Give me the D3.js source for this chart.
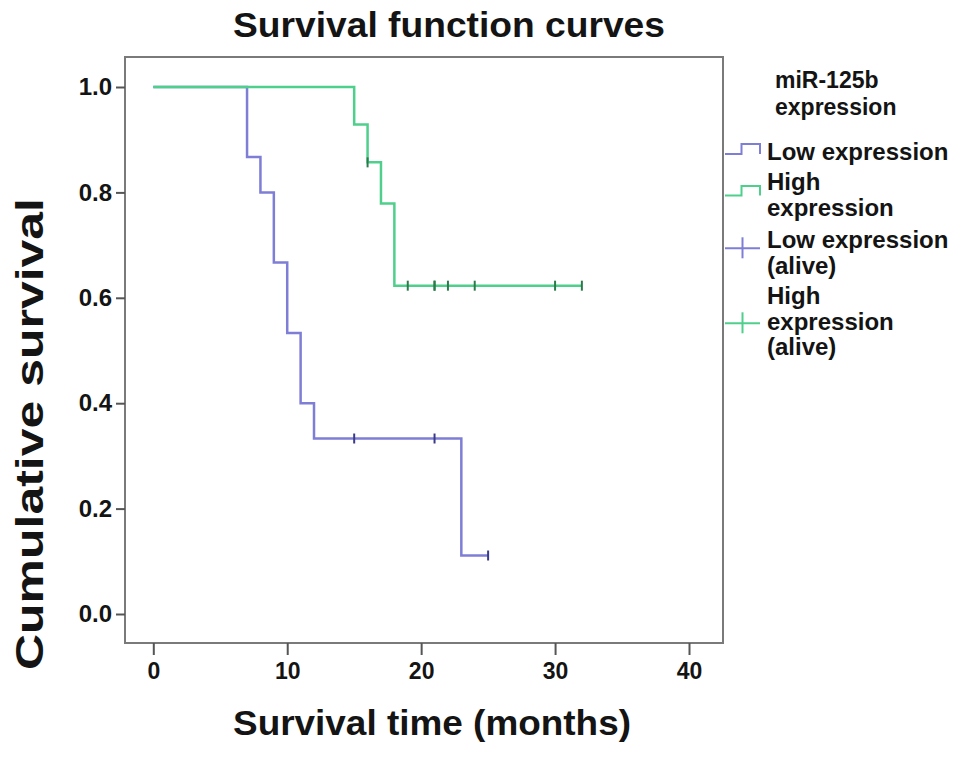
<!DOCTYPE html>
<html>
<head>
<meta charset="utf-8">
<script src="https://cdn.jsdelivr.net/npm/d3@7"></script>
<style>
  body { margin: 0; background: #fff; }
  text { font-family: "Liberation Sans", Arial, sans-serif; font-weight: bold; fill: #141414; }
</style>
</head>
<body>
<script>
//step curves (months, cumulative survival)
var lowTime = [0, 7, 8, 9, 10, 11, 12, 23, 25];
var lowSurv = [1.0, 0.867, 0.8, 0.667, 0.533, 0.4, 0.333, 0.111, 0.111];
var highTime = [0, 15, 16, 17, 18, 32];
var highSurv = [1.0, 0.929, 0.857, 0.779, 0.623, 0.623];

//censored cases (alive)
var lowCensorTime = [15, 21, 25];
var lowCensorSurv = [0.333, 0.333, 0.111];
var highCensorTime = [16, 19, 21, 21, 22, 24, 30, 32];
var highCensorSurv = [0.857, 0.623, 0.623, 0.623, 0.623, 0.623, 0.623, 0.623];

var xTicks = [0, 10, 20, 30, 40];
var yTicks = [0.0, 0.2, 0.4, 0.6, 0.8, 1.0];

var legendTitle = ["miR-125b", "expression"];
var legendLabels = [
    ["Low expression"],
    ["High", "expression"],
    ["Low expression", "(alive)"],
    ["High", "expression", "(alive)"]
];

var lowColor = "#7e7ed6", highColor = "#4fcf8c";
var lowMark = "#3a3a8a", highMark = "#2a7a4a";

var width = 969, height = 757;
var frame = {left: 125, right: 723, top: 57, bottom: 643};

var svg = d3.select("body").append("svg")
    .attr("width", width)
    .attr("height", height);

var x = d3.scaleLinear().domain([0, 40]).range([153.3, 689]);
var y = d3.scaleLinear().domain([0, 1]).range([614, 87]);

//title
svg.append("text")
    .attr("x", 233).attr("y", 37)
    .attr("textLength", 432).attr("lengthAdjust", "spacingAndGlyphs")
    .style("font-size", "35px")
    .text("Survival function curves");

//plot frame
svg.append("rect")
    .attr("x", frame.left).attr("y", frame.top)
    .attr("width", frame.right - frame.left)
    .attr("height", frame.bottom - frame.top)
    .attr("fill", "none")
    .attr("stroke", "#7a7a7a")
    .attr("stroke-width", 2);

//axes
var xAxis = svg.append("g")
    .attr("transform", "translate(0," + frame.bottom + ")")
    .call(d3.axisBottom(x).tickValues(xTicks).tickSize(12).tickPadding(8).tickFormat(d3.format("d")));
xAxis.select(".domain").remove();
xAxis.selectAll("line").attr("stroke", "#555").attr("stroke-width", 2);
xAxis.selectAll("text").style("font-size", "23px").attr("fill", "#141414");

var yAxis = svg.append("g")
    .attr("transform", "translate(" + frame.left + ",0)")
    .call(d3.axisLeft(y).tickValues(yTicks).tickSize(9).tickPadding(4).tickFormat(d3.format(".1f")));
yAxis.select(".domain").remove();
yAxis.selectAll("line").attr("stroke", "#555").attr("stroke-width", 2);
yAxis.selectAll("text").style("font-size", "24px").attr("fill", "#141414");

//axis titles
svg.append("text")
    .attr("x", 233).attr("y", 735)
    .attr("textLength", 398).attr("lengthAdjust", "spacingAndGlyphs")
    .style("font-size", "35px")
    .text("Survival time (months)");

svg.append("text")
    .attr("transform", "translate(43,434) rotate(-90)")
    .attr("text-anchor", "middle")
    .attr("textLength", 472).attr("lengthAdjust", "spacingAndGlyphs")
    .style("font-size", "38px")
    .text("Cumulative survival");

//survival step lines
var line = d3.line()
    .x(function(d){ return x(d[0]); })
    .y(function(d){ return y(d[1]); })
    .curve(d3.curveStepAfter);

function drawCurve(times, surv, color){
    svg.append("path")
        .datum(d3.zip(times, surv))
        .attr("fill", "none")
        .attr("stroke", color)
        .attr("stroke-width", 2.5)
        .attr("d", line);
};

function drawCensor(times, surv, color){
    svg.selectAll(null)
        .data(d3.zip(times, surv))
        .enter()
        .append("line")
        .attr("x1", function(d){ return x(d[0]); })
        .attr("x2", function(d){ return x(d[0]); })
        .attr("y1", function(d){ return y(d[1]) - 5; })
        .attr("y2", function(d){ return y(d[1]) + 5; })
        .attr("stroke", color)
        .attr("stroke-width", 2);
};

drawCurve(lowTime, lowSurv, lowColor);
drawCurve(highTime, highSurv, highColor);
drawCensor(lowCensorTime, lowCensorSurv, lowMark);
drawCensor(highCensorTime, highCensorSurv, highMark);

//legend
var legend = svg.append("g");

legend.selectAll(".ltitle")
    .data(legendTitle)
    .enter()
    .append("text")
    .attr("class", "ltitle")
    .attr("x", 775)
    .attr("y", function(d, i){ return 88 + i * 27; })
    .style("font-size", "23px")
    .text(function(d){ return d; });

var firstBaseline = [160, 190, 248, 304];
legendLabels.forEach(function(lines, k){
    legend.selectAll(".litem" + k)
        .data(lines)
        .enter()
        .append("text")
        .attr("class", "litem" + k)
        .attr("x", 767)
        .attr("y", function(d, i){ return firstBaseline[k] + i * 25.5; })
        .style("font-size", "24px")
        .text(function(d){ return d; });
});

//legend symbols
var stepY = [[154, 144], [195.5, 186]];
[lowColor, highColor].forEach(function(c, k){
    legend.append("path")
        .attr("d", "M725," + stepY[k][0] + "H741.5V" + stepY[k][1] + "H760V" + stepY[k][0])
        .attr("fill", "none")
        .attr("stroke", c)
        .attr("stroke-width", 2);
});

var crossY = [248.3, 323.3];
[[lowColor, lowMark], [highColor, highMark]].forEach(function(c, k){
    legend.append("line")
        .attr("x1", 725).attr("x2", 760)
        .attr("y1", crossY[k]).attr("y2", crossY[k])
        .attr("stroke", c[0]).attr("stroke-width", 2);
    legend.append("line")
        .attr("x1", 742.5).attr("x2", 742.5)
        .attr("y1", crossY[k] - 11).attr("y2", crossY[k] + 10)
        .attr("stroke", c[0]).attr("stroke-width", 2);
});
</script>
</body>
</html>
